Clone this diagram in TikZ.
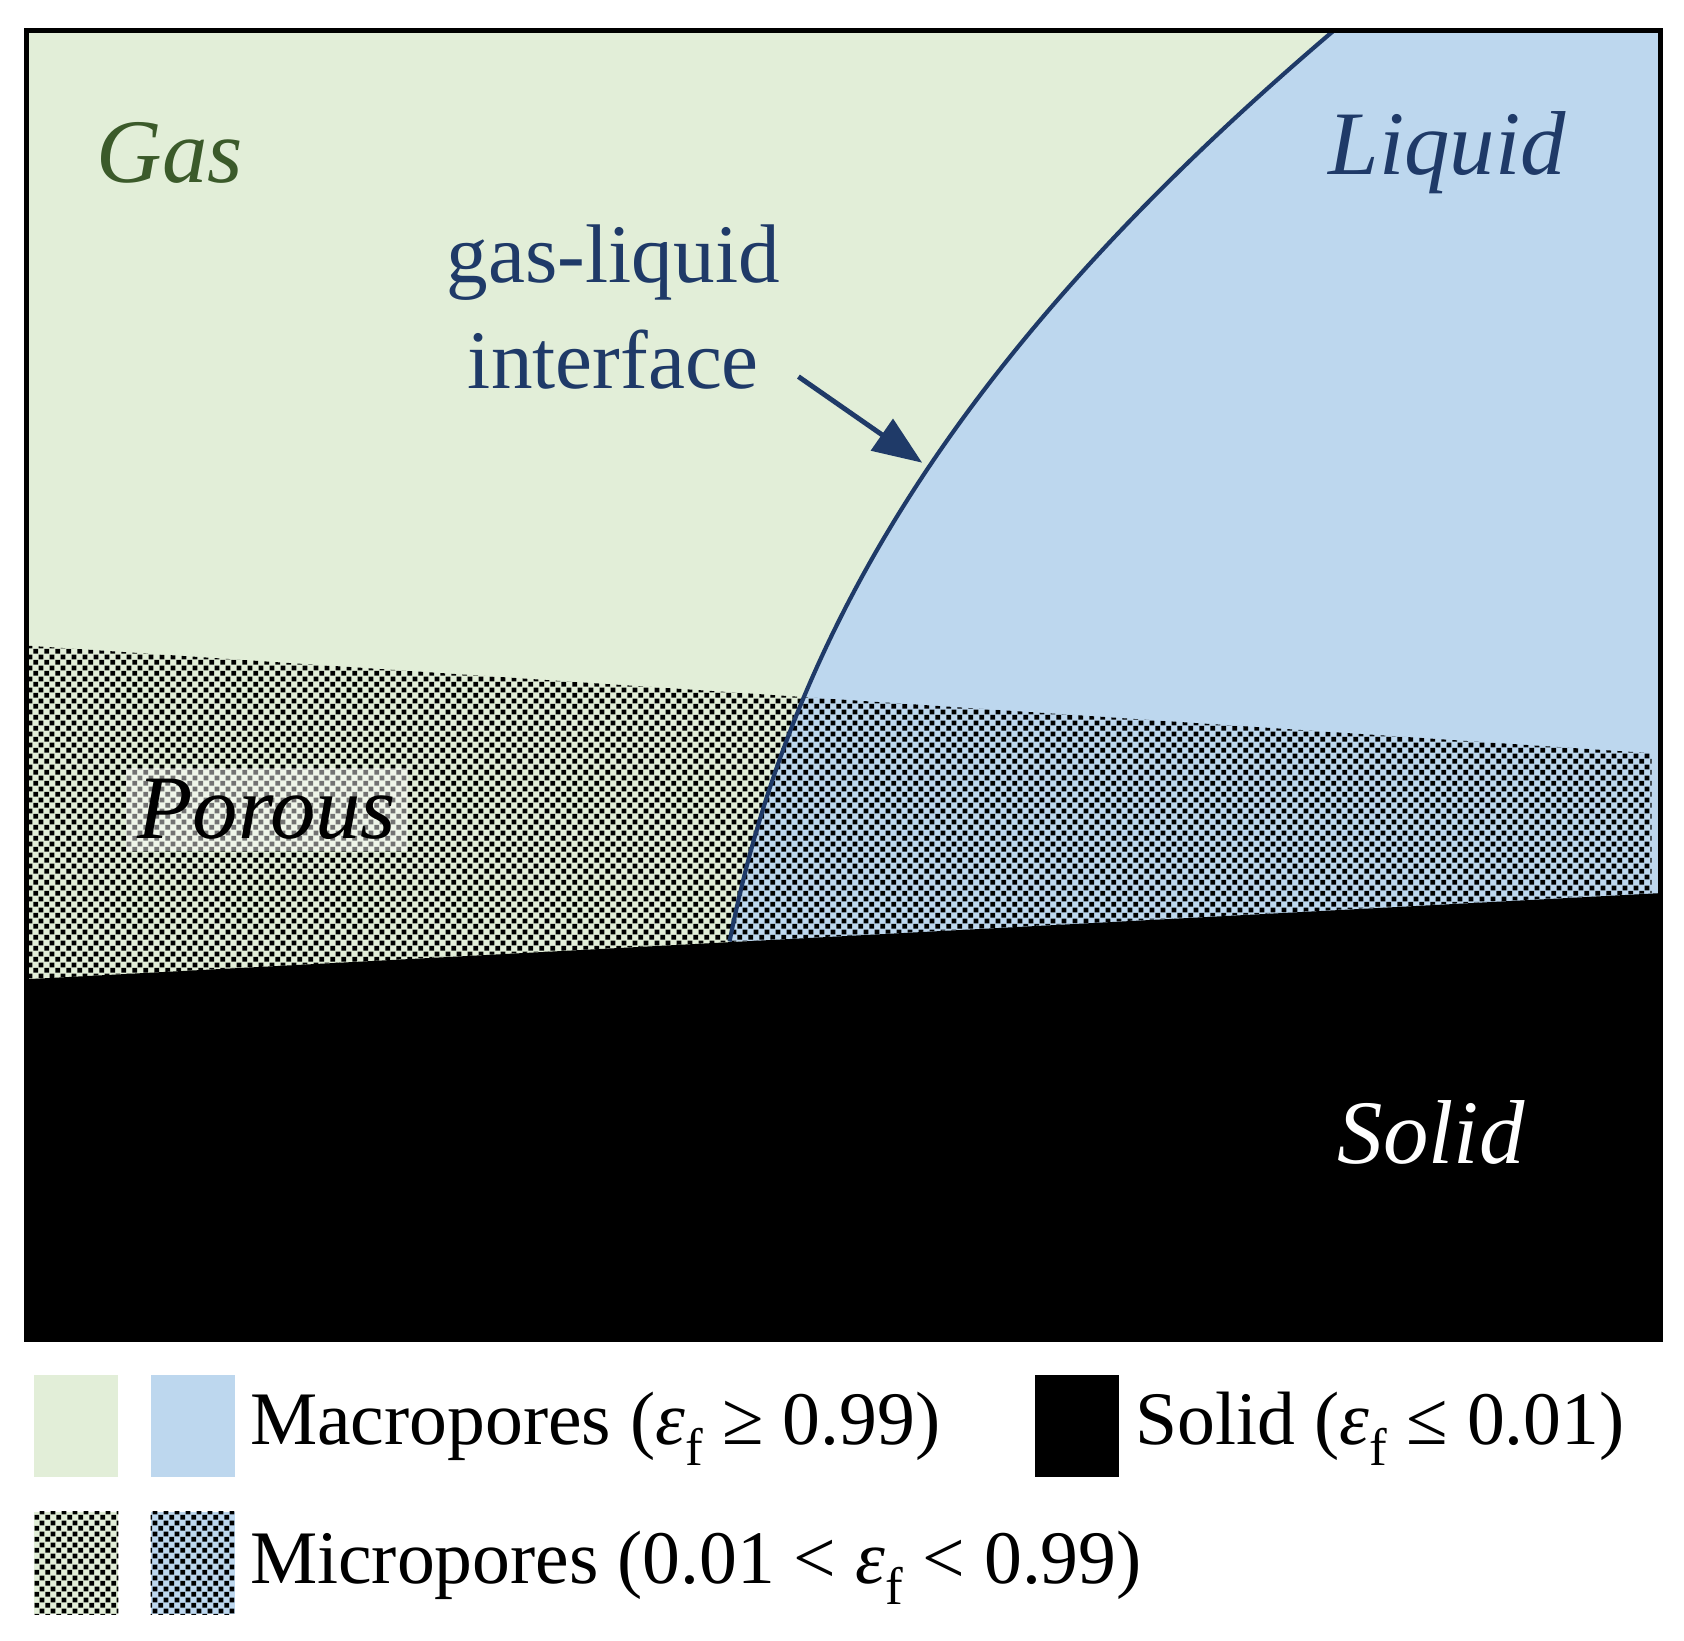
\documentclass[tikz,border=0pt]{standalone}
\usepackage{fontspec}
\setmainfont{Liberation Serif}
\usetikzlibrary{patterns.meta,arrows.meta}
\definecolor{gasc}{HTML}{E2EED8}
\definecolor{liqc}{HTML}{BDD7EE}
\definecolor{navy}{HTML}{1F3A68}
\definecolor{gastxt}{HTML}{3B5A2A}
\tikzdeclarepattern{name=micro,type=uncolored,bounding box={(0,0) and (6pt,6pt)},tile size={(6pt,6pt)},
 code={\fill (0.2pt,0.2pt) rectangle (2.8pt,2.8pt); \fill (3.2pt,3.2pt) rectangle (5.8pt,5.8pt);}}
\tikzset{lab/.style={font=\fontsize{44}{50}\selectfont,inner sep=0pt},
 leg/.style={font=\fontsize{40}{46}\selectfont,anchor=west,inner sep=0pt},
 micfill/.style={pattern={micro},pattern color=black}}
\begin{document}
\begin{tikzpicture}[x=0.02cm,y=-0.02cm]
\useasboundingbox (0,0) rectangle (1565,1525);
\fill[white] (0,0) rectangle (1565,1525);
\begin{scope}
\clip (25,28) rectangle (1543,1245);
\fill[gasc] (25,28) rectangle (1543,1245);
\fill[liqc] (678,875) .. controls (740,560) and (920,300) .. (1240,28) -- (1543,28) -- (1543,875) -- cycle;
\fill[micfill] (25,600) -- (1535,700) -- (1535,830) -- (25,910) -- cycle;
\fill[black] (25,910) -- (1543,830) -- (1543,1245) -- (25,1245) -- cycle;
\coordinate (ib) at (678,875);
\coordinate (it) at (1240,28);
\draw[navy,line width=2.2pt] (ib) .. controls (740,560) and (920,300) .. (it);
\end{scope}
\draw[black,line width=2.6pt] (25,28) rectangle (1543,1245);
\node[lab,font=\fontsize{48}{50}\selectfont\itshape,text=gastxt] (gas) at (158,142) {Gas};
\node[lab,font=\fontsize{48}{50}\selectfont\itshape,text=navy] (liq) at (1345,142) {Liquid};
\node[lab,text=navy,align=center,font=\fontsize{44}{56}\selectfont] (gli) at (570,285) {gas-liquid\\interface};
\coordinate (tip) at (857,430);
\draw[navy,line width=2.6pt,-{Triangle[length=26pt,width=20pt]}] (742,350) -- (tip);
\node[fill=white,fill opacity=0.45,text opacity=1,inner sep=6pt,font=\fontsize{48}{50}\selectfont\itshape] (por) at (248,752) {Porous};
\node[lab,font=\fontsize{48}{50}\selectfont\itshape,text=white] (sol) at (1330,1052) {Solid};
% legend
\node[fill=gasc,minimum width=1.56cm,minimum height=1.9cm,inner sep=0pt] (lg1) at (71,1325) {};
\node[fill=liqc,minimum width=1.56cm,minimum height=1.9cm,inner sep=0pt] (lg2) at (179,1325) {};
\node[leg] (t1) at (232,1328) {Macropores (\textit{ε}\textsubscript{f} ≥ 0.99)};
\node[fill=black,minimum width=1.56cm,minimum height=1.9cm,inner sep=0pt] (lg3) at (1001,1325) {};
\node[leg] (t2) at (1055,1328) {Solid (\textit{ε}\textsubscript{f} ≤ 0.01)};
\fill[gasc] (32,1405) rectangle (110,1500);
\fill[micfill] (32,1405) rectangle (110,1500);
\fill[liqc] (140,1405) rectangle (218,1500);
\fill[micfill] (140,1405) rectangle (218,1500);
\node[inner sep=0pt,minimum width=1.56cm,minimum height=1.9cm] (lg4) at (71,1452) {};
\node[inner sep=0pt,minimum width=1.56cm,minimum height=1.9cm] (lg5) at (179,1452) {};
\node[leg] (t3) at (232,1457) {Micropores (0.01 {<} \textit{ε}\textsubscript{f} {<} 0.99)};
\end{tikzpicture}
\end{document}
